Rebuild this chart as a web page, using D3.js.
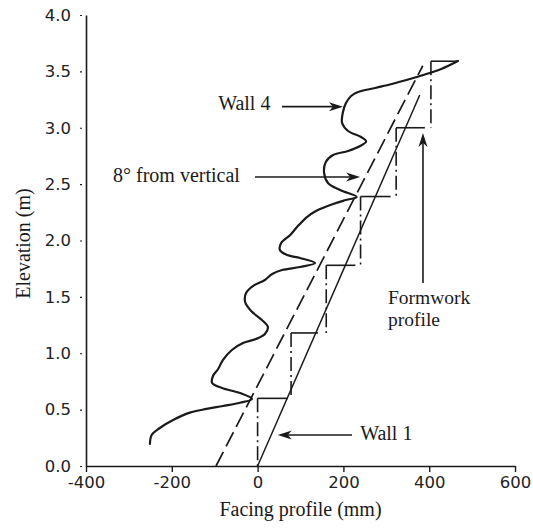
<!DOCTYPE html>
<html>
<head>
<meta charset="utf-8">
<script src="https://cdn.jsdelivr.net/npm/d3@7"></script>
<style>
  html, body { margin: 0; padding: 0; background: #fff; }
  svg { display: block; }
  .tick text { font-family: "DejaVu Sans", sans-serif; font-size: 16.5px; fill: #222; }
  .lbl { font-family: "Liberation Serif", "Times New Roman", serif; font-size: 20px; fill: #1a1a1a; }
</style>
</head>
<body>
<svg id="chart" width="533" height="531"></svg>
<script>
// Axis ticks
const xTicks = [-400, -200, 0, 200, 400, 600];
const yTicks = [0, 0.5, 1.0, 1.5, 2.0, 2.5, 3.0, 3.5, 4.0];

// Measured facing profile of Wall 4 (mm from design line, elevation m)
const wall4X = [-251, -247, -228, -197, -158, -119, -81, -41, -13,
  -41, -83, -106, -104, -92, -81, -60, -34, -4, 17, 24, 10, -15, -29, -27, -11,
  17, 34, 57, 99, 134,
  99, 69, 52, 55, 76, 92, 115, 136, 176, 206, 231,
  192, 164, 155, 159, 176, 211, 239, 253, 241, 211, 197, 199, 206, 218, 234,
  274, 313, 355, 390, 428, 467];
const wall4Y = [0.195, 0.275, 0.337, 0.408, 0.473, 0.506, 0.532, 0.561, 0.594,
  0.647, 0.692, 0.736, 0.798, 0.860, 0.940, 1.029, 1.091, 1.126, 1.171, 1.233, 1.295, 1.375, 1.455, 1.534, 1.596,
  1.650, 1.703, 1.738, 1.765, 1.800,
  1.845, 1.871, 1.916, 1.978, 2.049, 2.120, 2.208, 2.262, 2.324, 2.359, 2.386,
  2.448, 2.510, 2.599, 2.696, 2.758, 2.794, 2.838, 2.878, 2.918, 2.971, 3.042, 3.140, 3.219, 3.282, 3.317,
  3.353, 3.388, 3.432, 3.472, 3.521, 3.592];

// Wall 1 facing (straight)
const wall1X = [0, 378];
const wall1Y = [0, 3.29];

// Reference line, 8 degrees from vertical
const batterX = [-97, 385];
const batterY = [0, 3.55];

// Formwork lifts: face position, lift bottom / top, end of top ledge
const formFaceX = [0, 78, 160, 240, 323, 404];
const formLiftBottom = [0, 0.6, 1.18, 1.78, 2.39, 3.0];
const formLiftTop = [0.6, 1.18, 1.78, 2.39, 3.0, 3.59];
const formLedgeEnd = [70, 141, 228, 310, 390, 467];

// Annotations (data units)
const noteText = ["Wall 4", "8\u00B0 from vertical", "Wall 1"];
const noteTextX = [-92, -337, 239];
const noteTextY = [3.157, 2.519, 0.231];
const noteArrowFromX = [57, -6, 220];
const noteArrowToX = [199, 239, 47];
const noteArrowY = [3.187, 2.563, 0.275];

const formNoteLines = ["Formwork", "profile"];
const formNoteX = 304;
const formNoteY = 1.44;
const formArrowX = 385.5;
const formArrowFromY = 1.623;
const formArrowToY = 2.953;

const svg = d3.select("#chart");
const x = d3.scaleLinear().domain([-400, 600]).range([86, 515]);
const y = d3.scaleLinear().domain([0, 4]).range([466, 15]);

const ink = "#1a1a1a";

// Axes
const xAxis = svg.append("g")
  .attr("transform", `translate(0,${y(0)})`)
  .call(d3.axisBottom(x).tickValues(xTicks).tickFormat(d => String(d))
    .tickSizeInner(6).tickSizeOuter(0).tickPadding(4));
xAxis.select(".domain").attr("stroke", ink).attr("stroke-width", 1.6);
xAxis.selectAll(".tick line").attr("stroke", ink).attr("stroke-width", 1.4);

const yAxis = svg.append("g")
  .attr("transform", `translate(${x(-400)},0)`)
  .call(d3.axisLeft(y).tickValues(yTicks).tickFormat(d3.format(".1f"))
    .tickSizeInner(6).tickSizeOuter(0).tickPadding(9));
yAxis.select(".domain").attr("stroke", ink).attr("stroke-width", 1.6);
yAxis.selectAll(".tick line").attr("x1", -4).attr("stroke", ink).attr("stroke-width", 1.2);

// Axis titles
svg.append("text").attr("class", "lbl")
  .attr("x", (x(-400) + x(600)) / 2).attr("y", 516)
  .attr("text-anchor", "middle").text("Facing profile (mm)");
svg.append("text").attr("class", "lbl")
  .attr("transform", `translate(30,${(y(0) + y(4)) / 2 + 3}) rotate(-90)`)
  .attr("text-anchor", "middle").text("Elevation (m)");

const line = d3.line().x(d => x(d[0])).y(d => y(d[1]));

// Formwork: dash-dot faces and solid ledges
formFaceX.forEach((fx, i) => {
  svg.append("path")
    .attr("d", line([[fx, formLiftTop[i]], [fx, formLiftBottom[i]]]))
    .attr("fill", "none").attr("stroke", ink).attr("stroke-width", 1.6)
    .attr("stroke-dasharray", "14,4,2,4");
  svg.append("path")
    .attr("d", line([[fx, formLiftTop[i]], [formLedgeEnd[i], formLiftTop[i]]]))
    .attr("fill", "none").attr("stroke", ink).attr("stroke-width", 1.6);
});

// 8 degree reference
svg.append("path")
  .attr("d", line(batterX.map((v, i) => [v, batterY[i]])))
  .attr("fill", "none").attr("stroke", ink).attr("stroke-width", 1.7)
  .attr("stroke-dasharray", "16,6");

// Wall 1
svg.append("path")
  .attr("d", line(wall1X.map((v, i) => [v, wall1Y[i]])))
  .attr("fill", "none").attr("stroke", ink).attr("stroke-width", 1.5);

// Wall 4
svg.append("path")
  .attr("d", d3.line().x(d => x(d[0])).y(d => y(d[1])).curve(d3.curveCatmullRom.alpha(0.5))(
    wall4X.map((v, i) => [v, wall4Y[i]])))
  .attr("fill", "none").attr("stroke", ink).attr("stroke-width", 2.2)
  .attr("stroke-linejoin", "round").attr("stroke-linecap", "round");

// Arrow helper (pixel space)
function arrow(x1, y1, x2, y2) {
  const a = Math.atan2(y2 - y1, x2 - x1);
  const L = 14, W = 4.5, N = 10;
  svg.append("line").attr("x1", x1).attr("y1", y1)
    .attr("x2", x2 - Math.cos(a) * N).attr("y2", y2 - Math.sin(a) * N)
    .attr("stroke", ink).attr("stroke-width", 1.6);
  const pt = (dl, dw) => [x2 - Math.cos(a) * dl - Math.sin(a) * dw, y2 - Math.sin(a) * dl + Math.cos(a) * dw];
  svg.append("path")
    .attr("d", "M" + [pt(0, 0), pt(L, -W), pt(N, 0), pt(L, W)].map(p => p.join(",")).join("L") + "Z")
    .attr("fill", ink);
}

noteText.forEach((t, i) => {
  svg.append("text").attr("class", "lbl")
    .attr("x", x(noteTextX[i])).attr("y", y(noteTextY[i])).text(t);
  arrow(x(noteArrowFromX[i]), y(noteArrowY[i]), x(noteArrowToX[i]), y(noteArrowY[i]));
});

// Two-line formwork label
const formNote = svg.append("text").attr("class", "lbl")
  .style("font-size", "19.5px")
  .attr("x", x(formNoteX)).attr("y", y(formNoteY));
formNoteLines.forEach((t, i) => {
  formNote.append("tspan").attr("x", x(formNoteX)).attr("dy", i === 0 ? 0 : 22).text(t);
});
arrow(x(formArrowX), y(formArrowFromY), x(formArrowX), y(formArrowToY));
</script>
</body>
</html>
